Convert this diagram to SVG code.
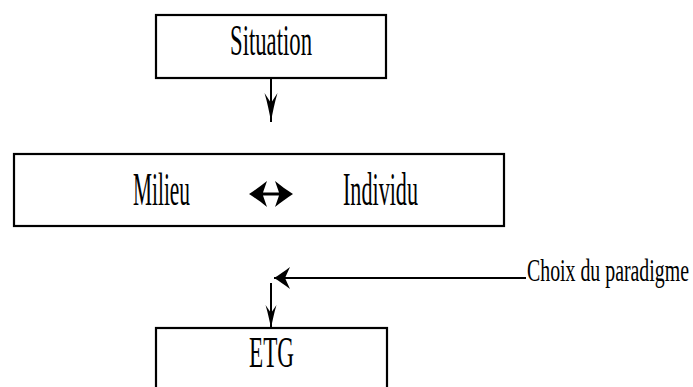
<svg xmlns="http://www.w3.org/2000/svg" width="693" height="387" viewBox="0 0 693 387">
<style>
.box{fill:#fff;stroke:#000;stroke-width:2.2}
.t{font-family:"Liberation Serif","Times New Roman",serif;fill:#000}
.c{fill:none;stroke:#000;stroke-width:2}
</style>
<defs>
<marker id="headLong" markerUnits="userSpaceOnUse" markerWidth="30" markerHeight="14" refX="0" refY="0" orient="auto" overflow="visible">
<path d="M0,0 C-9,-1.5 -19,-3.5 -29,-6.5 L-19,0 L-29,6.5 C-19,3.5 -9,1.5 0,0 Z" fill="#000"/>
</marker>
<marker id="headShort" markerUnits="userSpaceOnUse" markerWidth="24" markerHeight="12" refX="0" refY="0" orient="auto" overflow="visible">
<path d="M0,0 C-7,-1.5 -15,-3 -23,-5.5 L-15,0 L-23,5.5 C-15,3 -7,1.5 0,0 Z" fill="#000"/>
</marker>
<marker id="headWide" markerUnits="userSpaceOnUse" markerWidth="18" markerHeight="22" refX="0" refY="0" orient="auto" overflow="visible">
<path d="M0,0 C-5,-3 -10,-6.5 -16,-11 L-11,0 L-16,11 C-10,6.5 -5,3 0,0 Z" fill="#000"/>
</marker>
</defs>
<g id="situation">
<rect class="box" x="156" y="15" width="230" height="63"/>
<text class="t" x="230" y="55" font-size="44" textLength="82" lengthAdjust="spacingAndGlyphs">Situation</text>
</g>
<g id="milieu-individu">
<rect class="box" x="14" y="154" width="490" height="72"/>
<text class="t" x="133" y="205" font-size="46" textLength="57" lengthAdjust="spacingAndGlyphs">Milieu</text>
<path d="M249,194 C255,190 261,186 267,181 L263,192.5 L279,192.5 L275,181 C281,186 287,190 293,194 C287,198 281,202 275,207 L279,195.5 L263,195.5 L267,207 C261,202 255,198 249,194 Z" fill="#000"/>
<text class="t" x="343" y="205" font-size="46" textLength="75" lengthAdjust="spacingAndGlyphs">Individu</text>
</g>
<g id="etg">
<rect class="box" x="156" y="328" width="231" height="80"/>
<text class="t" x="249" y="367" font-size="45" textLength="45" lengthAdjust="spacingAndGlyphs">ETG</text>
</g>
<g id="choix">
<text class="t" transform="translate(527,281) scale(0.64,1)" x="0" y="0" font-size="31">Choix du paradigme</text>
</g>
<g id="connectors">
<line class="c" x1="526" y1="278" x2="274" y2="278" marker-end="url(#headWide)"/>
<line class="c" x1="271" y1="78" x2="271" y2="122" marker-end="url(#headLong)"/>
<line class="c" x1="271" y1="283" x2="271" y2="328" marker-end="url(#headShort)"/>
</g>
</svg>
